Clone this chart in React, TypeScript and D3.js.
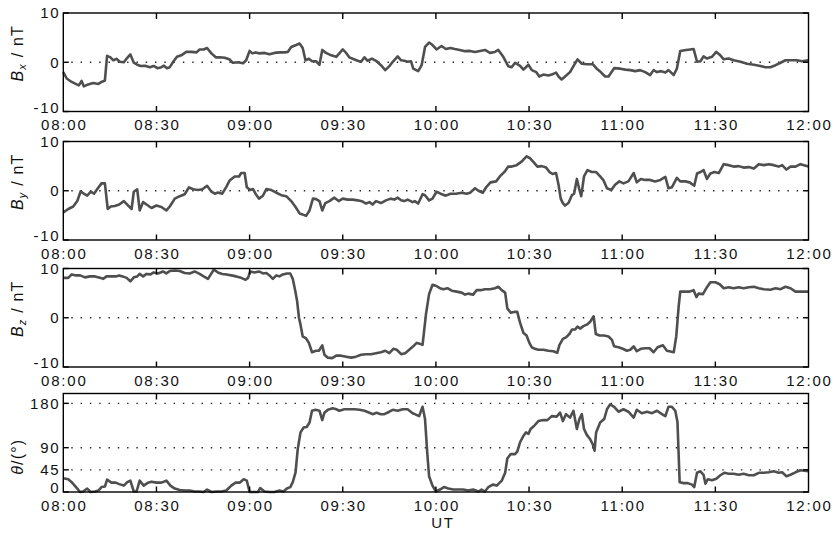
import React from 'react';
import * as d3 from 'd3';

// minutes after 08:00 UT, value
const bxData: [number, number][] = [
  [0,-2.0],[1.1,-3.3],[2.7,-4.0],[4.3,-4.5],[5.0,-4.7],[5.9,-3.8],[6.6,-4.9],[8.0,-4.5],[9.6,-4.2],[11.3,-4.4],
  [12.3,-4.0],[13.4,-3.7],[14.1,1.3],[15.2,1.0],[16.1,0.4],[17.1,0.7],[18.2,0.1],[19.5,0.0],[20.4,0.75],[21.6,1.6],
  [22.7,-0.1],[23.8,-0.5],[24.9,-0.75],[26.3,-0.7],[27.9,-1.0],[29.1,-0.75],[30.3,-1.2],[31.6,-1.0],[32.4,-0.7],[33.4,-1.2],
  [34.3,-1.0],[35.4,0.1],[36.6,1.1],[38.0,1.4],[39.6,2.1],[41.3,2.1],[42.9,2.0],[43.9,2.6],[45.2,2.6],[46.3,2.9],
  [47.7,1.8],[49.1,1.0],[50.4,1.0],[52.0,0.9],[53.6,0.55],[54.6,-0.1],[56.3,0.0],[57.9,-0.2],[58.9,0.4],[60.0,2.3],
  [60.9,1.8],[61.9,2.0],[63.2,1.8],[64.8,1.9],[66.4,1.6],[68.0,1.9],[69.6,2.0],[71.3,2.0],[72.3,2.1],[73.4,3.1],
  [75.0,3.5],[76.1,3.8],[77.1,2.9],[78.0,0.4],[79.1,0.7],[80.1,0.2],[81.4,0.2],[82.5,-0.5],[83.4,2.5],[84.6,1.9],
  [86.3,1.4],[87.9,1.1],[88.9,1.8],[90.0,2.6],[91.1,1.9],[92.1,1.0],[93.2,0.7],[94.8,0.3],[95.9,0.1],[97.0,1.0],
  [98.0,0.3],[99.4,0.75],[100.7,0.3],[102.3,-0.6],[103.7,-1.6],[105.0,-0.8],[106.1,0.1],[107.7,1.2],[108.8,0.4],[109.8,0.3],
  [110.9,0.1],[112.0,0.2],[112.7,-1.3],[114.3,-1.8],[115.4,-0.6],[116.5,3.1],[117.8,4.0],[118.9,3.5],[120.2,2.6],[121.8,3.3],
  [123.2,2.7],[124.7,2.9],[126.1,2.7],[127.7,2.5],[129.4,2.25],[131.0,2.3],[132.6,2.1],[134.2,2.3],[135.8,2.5],[137.4,1.9],
  [139.0,2.1],[140.1,2.5],[141.7,1.1],[143.3,-0.8],[144.4,-1.0],[145.5,-0.1],[147.1,-0.75],[148.2,-1.5],[149.8,-0.5],[150.9,-1.6],
  [152.3,-2.0],[153.3,-2.9],[154.6,-2.5],[156.2,-2.7],[157.3,-2.5],[158.7,-2.1],[159.5,-2.9],[160.5,-3.5],[161.6,-2.9],[163.2,-2.0],
  [164.3,-0.8],[165.6,0.6],[167.0,-0.3],[168.6,-0.4],[170.5,-0.4],[171.8,-1.3],[173.1,-2.0],[174.5,-2.9],[175.6,-2.9],[177.4,-1.2],
  [179.4,-1.3],[181.0,-1.5],[182.6,-1.6],[184.2,-1.8],[185.8,-1.6],[187.4,-2.0],[189.0,-2.6],[190.1,-1.6],[191.2,-2.0],[192.5,-1.8],
  [193.9,-2.1],[194.9,-1.6],[196.6,-2.6],[197.6,-1.3],[198.7,2.3],[200.6,2.5],[201.9,2.6],[203.0,2.7],[204.1,0.1],[205.2,0.2],
  [206.2,1.2],[207.3,0.75],[208.9,1.1],[210.3,2.1],[211.6,1.4],[212.7,0.6],[214.3,0.75],[215.9,0.4],[218.1,0.1],[220.2,-0.3],
  [222.4,-0.5],[224.5,-0.75],[226.1,-1.0],[227.7,-1.0],[229.4,-0.6],[231.0,-0.1],[232.6,0.4],[234.7,0.4],[236.3,0.4],[237.9,0.2],
  [240,0.4],
];

const byData: [number, number][] = [
  [0,-4.4],[1.6,-3.7],[3.2,-3.2],[4.5,-2.1],[5.6,-0.1],[6.6,-0.6],[7.7,-1.0],[8.8,-0.2],[9.9,-0.6],[10.9,0.3],
  [12.3,1.5],[13.4,1.5],[14.3,-3.7],[15.3,-3.2],[16.6,-3.1],[18.0,-2.8],[19.5,-2.1],[20.6,-2.8],[22.0,-3.7],[22.7,-0.2],
  [23.8,0.3],[24.6,-4.0],[25.7,-2.3],[26.8,-2.8],[28.4,-3.5],[30.0,-3.0],[31.6,-3.3],[33.2,-4.0],[34.3,-3.2],[35.9,-1.6],
  [37.5,-1.1],[39.1,-0.7],[40.5,0.7],[41.8,0.3],[43.4,0.14],[44.8,0.3],[46.3,1.0],[47.7,-0.2],[48.8,-0.6],[49.8,-0.35],
  [51.2,-0.6],[52.5,0.8],[53.6,2.1],[55.2,2.9],[56.6,2.9],[57.3,3.6],[58.4,3.6],[59.1,0.7],[60.2,0.14],[61.1,0.35],
  [61.9,-0.6],[63.0,-1.6],[64.3,-1.0],[65.4,0.35],[67.0,0.14],[68.6,-0.4],[70.2,-0.9],[71.8,-1.1],[73.4,-2.1],[74.8,-3.3],
  [76.1,-4.6],[77.4,-4.9],[78.2,-5.1],[79.3,-4.0],[80.4,-1.6],[81.4,-1.7],[82.5,-2.1],[83.4,-4.0],[84.4,-2.5],[85.7,-2.1],
  [87.3,-1.4],[88.7,-2.1],[90.0,-1.6],[91.6,-1.8],[93.2,-1.8],[94.8,-1.95],[96.4,-2.2],[97.5,-2.6],[98.6,-2.3],[99.6,-2.8],
  [100.7,-2.1],[102.3,-2.5],[103.9,-1.95],[105.5,-1.6],[106.6,-1.8],[107.7,-1.4],[108.8,-1.95],[109.8,-2.1],[110.9,-1.8],[112.5,-2.3],
  [113.2,-2.1],[114.3,-2.6],[115.7,-0.7],[116.5,-0.9],[117.8,-1.95],[118.9,-1.6],[120.2,-0.2],[121.5,-0.6],[123.2,-1.0],[124.7,-0.6],
  [126.5,-0.6],[128.3,-0.4],[129.9,-0.6],[131.0,-0.4],[132.6,0.5],[133.7,0.0],[135.1,-0.4],[136.3,0.8],[137.6,1.7],[139.4,1.9],
  [140.6,2.9],[142.3,4.0],[143.3,4.9],[144.4,4.9],[146.0,5.2],[147.6,5.9],[149.2,7.0],[150.3,6.6],[151.6,5.7],[152.7,4.9],
  [154.1,5.0],[155.5,4.7],[156.6,3.8],[157.6,3.4],[158.7,3.6],[159.5,1.2],[160.2,-1.6],[160.9,-2.5],[161.6,-3.0],[162.7,-2.5],
  [163.8,-0.9],[164.5,-0.6],[165.4,2.4],[166.1,0.5],[166.8,-1.1],[167.7,2.9],[168.8,4.2],[170.2,3.8],[171.6,3.8],[172.9,2.9],
  [174.0,2.1],[175.1,0.5],[176.5,0.14],[177.7,1.2],[179.1,1.9],[180.4,1.5],[182.0,1.9],[183.7,3.6],[184.7,1.7],[186.0,2.4],
  [187.4,2.2],[189.0,2.2],[190.6,1.9],[192.3,2.2],[193.9,2.8],[194.9,0.5],[196.0,0.7],[197.6,2.6],[198.7,1.9],[200.3,1.9],
  [201.7,1.7],[203.2,1.0],[204.1,3.5],[205.2,3.8],[206.2,4.2],[207.3,2.4],[208.4,3.5],[209.7,3.8],[211.1,3.6],[212.7,5.4],
  [214.3,5.2],[215.9,4.9],[217.5,5.0],[219.1,4.7],[220.8,4.8],[222.4,4.5],[224.0,5.4],[225.6,5.2],[227.2,5.4],[228.8,5.2],
  [230.4,4.9],[231.5,5.2],[232.9,4.3],[234.2,4.9],[235.8,4.9],[237.4,5.4],[240,4.9],
];

const bzData: [number, number][] = [
  [0,8.1],[1.6,8.1],[2.7,8.8],[4.1,8.6],[5.4,8.6],[7.0,8.2],[8.6,8.4],[10.2,8.4],[11.8,8.1],[12.9,7.9],
  [13.9,8.4],[15.5,8.4],[16.9,8.4],[18.0,8.6],[19.1,8.4],[20.4,8.1],[21.6,7.4],[22.7,8.2],[23.8,8.4],[24.6,8.9],
  [25.7,8.4],[26.8,8.9],[28.1,8.8],[29.1,9.2],[30.5,9.0],[32.1,9.4],[33.2,9.0],[34.3,9.5],[35.9,9.6],[37.5,9.5],
  [39.1,9.1],[40.7,9.0],[42.3,9.4],[43.9,8.9],[45.2,8.4],[46.6,7.9],[48.5,9.8],[49.8,9.2],[51.2,8.9],[52.5,8.8],
  [54.1,8.6],[55.7,8.4],[57.3,8.1],[58.7,7.7],[59.5,8.1],[60.2,9.4],[61.6,9.2],[63.0,9.4],[64.3,9.0],[65.4,9.1],
  [66.4,8.6],[67.5,7.9],[68.6,8.6],[69.6,8.4],[70.7,8.8],[72.0,9.0],[73.1,9.0],[73.9,7.9],[74.7,5.5],[75.3,3.4],
  [75.9,0.0],[76.4,-1.4],[77.1,-3.8],[78.2,-4.2],[79.1,-5.1],[80.1,-7.0],[81.4,-6.7],[82.3,-6.7],[83.4,-5.6],[84.1,-7.5],
  [85.2,-8.1],[86.6,-8.2],[87.9,-7.7],[89.5,-7.7],[91.1,-7.9],[92.7,-8.1],[94.3,-7.9],[95.9,-7.5],[97.5,-7.4],[99.1,-7.4],
  [100.7,-7.2],[102.3,-7.0],[103.7,-6.7],[105.0,-7.2],[106.3,-6.3],[107.4,-6.5],[108.8,-7.4],[110.1,-7.2],[111.4,-6.5],[112.7,-5.8],
  [113.8,-5.1],[114.8,-5.3],[115.7,-5.5],[116.8,0.7],[117.8,4.8],[118.9,6.7],[120.0,6.5],[121.3,6.0],[122.4,5.8],[123.7,6.0],
  [125.1,5.5],[126.7,5.3],[128.3,5.1],[129.4,4.7],[130.4,4.9],[132.0,4.7],[133.1,5.6],[134.4,5.6],[135.8,5.8],[137.4,5.8],
  [139.0,6.0],[140.1,6.3],[141.2,5.6],[142.3,5.1],[143.0,1.9],[144.1,1.0],[145.5,1.2],[146.2,1.2],[147.1,-1.0],[148.2,-3.1],
  [149.2,-3.6],[150.1,-5.1],[150.9,-6.0],[151.9,-6.3],[153.0,-6.5],[154.6,-6.5],[156.2,-6.7],[157.8,-6.8],[159.1,-7.1],[159.8,-5.5],
  [160.9,-4.3],[161.9,-4.0],[163.0,-3.3],[163.8,-2.4],[164.8,-2.4],[165.6,-1.8],[166.5,-2.2],[167.5,-1.7],[168.6,-1.4],[169.7,-0.8],
  [170.8,0.3],[171.5,-3.3],[172.7,-3.6],[174.2,-3.6],[175.6,-3.8],[176.7,-4.5],[177.4,-5.8],[178.8,-6.0],[180.2,-6.3],[181.5,-6.7],
  [182.6,-6.5],[183.7,-5.8],[184.7,-6.8],[186.0,-6.3],[187.4,-6.2],[188.8,-6.2],[190.1,-7.0],[191.4,-6.0],[193.1,-5.6],[194.4,-6.7],
  [196.6,-7.0],[197.4,-3.8],[198.2,2.4],[198.7,5.3],[200.3,5.3],[201.7,5.3],[203.0,5.6],[203.9,4.2],[204.6,4.9],[206.0,4.8],
  [207.3,6.2],[208.4,7.2],[210.0,7.2],[211.4,6.8],[212.7,6.0],[214.3,6.2],[215.9,6.0],[217.5,6.2],[219.1,6.0],[220.8,6.2],
  [222.4,6.3],[224.0,6.0],[225.6,5.8],[227.7,5.7],[229.4,6.0],[231.0,5.8],[232.6,6.3],[234.2,6.0],[235.8,5.3],[237.4,5.3],
  [240,5.3],
];

const thetaData: [number, number][] = [
  [0,28],[1.6,26],[2.7,20],[4.1,10],[5.4,0],[6.4,1],[7.7,7],[8.8,0],[10.2,1],[11.3,3],
  [12.3,10],[13.4,11],[14.1,25],[15.5,19],[16.9,19],[18.0,16],[19.5,13],[20.6,20],[21.6,23],[22.7,1],
  [23.6,1],[24.6,23],[25.9,13],[27.3,19],[28.4,21],[30.0,19],[31.6,19],[33.2,23],[34.5,13],[35.9,7],
  [37.5,4],[39.1,3],[40.7,3],[42.3,1],[43.9,1],[45.2,0],[46.3,5],[47.7,0],[49.3,1],[50.9,1],
  [52.5,3],[54.1,13],[55.5,19],[56.8,19],[58.1,26],[59.1,23],[60.0,0],[61.3,0],[62.7,0],[63.4,8],
  [64.8,1],[66.4,0],[68.0,0],[69.6,3],[70.9,1],[72.0,7],[73.1,10],[73.9,20],[74.8,40],[75.5,87],
  [76.4,121],[77.4,131],[78.4,132],[79.3,141],[80.1,165],[81.2,167],[82.5,165],[83.4,146],[84.1,161],[85.2,167],
  [86.8,170],[87.9,168],[88.9,165],[90.5,168],[92.1,168],[93.8,168],[95.4,167],[97.0,165],[98.6,161],[99.6,158],
  [100.9,161],[102.3,158],[103.4,158],[105.0,163],[106.1,167],[107.7,165],[109.3,168],[110.9,168],[112.5,160],[113.2,158],
  [114.6,154],[115.7,173],[116.5,148],[117.2,81],[117.8,32],[118.9,13],[120.0,1],[121.3,5],[122.6,10],[124.0,7],
  [125.6,5],[127.2,5],[128.8,5],[130.4,3],[132.0,5],[133.7,1],[134.7,5],[135.8,1],[136.9,10],[138.3,15],
  [139.6,13],[141.2,23],[142.3,39],[143.0,68],[144.1,77],[145.5,77],[146.2,82],[147.1,101],[148.2,114],[149.0,121],
  [149.8,118],[150.5,128],[151.6,134],[153.0,144],[154.6,146],[155.9,146],[157.3,154],[158.9,153],[160.0,161],[160.9,144],
  [161.9,158],[163.2,151],[164.3,165],[165.4,128],[166.2,148],[167.0,158],[167.7,128],[168.6,116],[169.7,107],[170.5,97],
  [171.1,84],[171.6,121],[172.9,141],[174.2,148],[175.1,168],[176.1,178],[177.4,173],[178.8,163],[180.4,168],[182.0,163],
  [183.7,151],[184.7,167],[186.3,160],[188.0,163],[189.6,160],[191.2,165],[192.8,158],[193.9,154],[194.9,173],[196.0,173],
  [197.1,165],[197.8,142],[198.5,20],[199.8,18],[201.1,18],[202.5,15],[203.2,10],[204.1,39],[205.2,42],[206.2,35],
  [206.8,17],[207.6,26],[208.9,24],[210.3,27],[211.6,34],[212.9,39],[214.3,37],[215.9,37],[217.5,35],[219.1,37],
  [220.8,34],[222.4,34],[224.0,39],[225.6,39],[227.2,40],[228.8,42],[230.4,39],[231.5,40],[232.9,32],[234.2,35],
  [235.8,40],[237.4,44],[240,42],
];

const timeTicks = [0, 30, 60, 90, 120, 150, 180, 210, 240];
const timeLabels = ['08:00', '08:30', '09:00', '09:30', '10:00', '10:30', '11:00', '11:30', '12:00'];
const bTicks = [-10, 0, 10];
const bGrid = [0];
const thetaTicks = [0, 45, 90, 180];
const thetaGrid = [45, 90, 180];

const FONT = '"Liberation Sans", Arial, Helvetica, sans-serif';
const LEFT = 63.3;
const RIGHT = 808.5;
const PANEL_H = 98.5;
const panelTops = [13, 141.5, 268.5, 393.5];

const x = d3.scaleLinear().domain([0, 240]).range([LEFT, RIGHT]);

type Panel = {
  data: [number, number][];
  domain: [number, number];
  ticks: number[];
  grid: number[];
  sub?: string;
  labelShift: number;
};

const panels: Panel[] = [
  { data: bxData, domain: [-10, 10], ticks: bTicks, grid: bGrid, sub: 'x', labelShift: -9 },
  { data: byData, domain: [-10, 10], ticks: bTicks, grid: bGrid, sub: 'y', labelShift: -9 },
  { data: bzData, domain: [-10, 10], ticks: bTicks, grid: bGrid, sub: 'z', labelShift: -9 },
  { data: thetaData, domain: [0, 200], ticks: thetaTicks, grid: thetaGrid, labelShift: 14 },
];

function PanelView({ p, top, last }: { p: Panel; top: number; last: boolean }) {
  const bottom = top + PANEL_H;
  const y = d3.scaleLinear().domain(p.domain).range([bottom, top]);
  const line = d3.line<[number, number]>()
    .x(d => x(d[0]))
    .y(d => y(d[1]));
  const cy = (top + bottom) / 2 + p.labelShift;
  const tickLen = 5.5;

  return (
    <g>
      {/* dotted reference lines */}
      {p.grid.map(v => (
        <line key={'g' + v} x1={LEFT + 8} x2={RIGHT - 2} y1={y(v)} y2={y(v)}
          stroke="#222" strokeWidth={1.4} strokeDasharray="1.4 7.9" />
      ))}
      <path d={line(p.data) || ''} fill="none" stroke="#4f4f4f" strokeWidth={2.6}
        strokeLinejoin="round" />
      <rect x={LEFT} y={top} width={RIGHT - LEFT} height={PANEL_H}
        fill="none" stroke="#000" strokeWidth={1.4} />
      {/* time ticks, top and bottom */}
      {timeTicks.slice(1, -1).map(t => (
        <g key={'t' + t}>
          <line x1={x(t)} x2={x(t)} y1={top} y2={top + tickLen + 0.5} stroke="#000" strokeWidth={1.4} />
          <line x1={x(t)} x2={x(t)} y1={bottom} y2={bottom - tickLen} stroke="#000" strokeWidth={1.4} />
        </g>
      ))}
      {timeTicks.map((t, i) => (
        <text key={'tl' + t} x={x(t) + 1} y={bottom + 18.5} textAnchor="middle"
          fontFamily={FONT} fontSize={15} letterSpacing={1.8} fill="#111">
          {timeLabels[i]}
        </text>
      ))}
      {/* value ticks, left and right */}
      {p.ticks.map(v => (
        <g key={'v' + v}>
          <line x1={LEFT} x2={LEFT + tickLen} y1={y(v)} y2={y(v)} stroke="#000" strokeWidth={1.4} />
          <line x1={RIGHT} x2={RIGHT - tickLen} y1={y(v)} y2={y(v)} stroke="#000" strokeWidth={1.4} />
          <text x={60.5} y={y(v) + (v === p.domain[0] ? 1.2 : 5.4)} textAnchor="end"
            fontFamily={FONT} fontSize={15} letterSpacing={1.8} fill="#111">
            {v}
          </text>
        </g>
      ))}
      {/* axis label */}
      <text transform={`translate(22.5,${cy}) rotate(-90)`} textAnchor="middle"
        fontFamily={FONT} fontSize={16} letterSpacing={1.2} fill="#111">
        {p.sub ? (
          <>
            <tspan fontStyle="italic">B</tspan>
            <tspan fontStyle="italic" fontSize={11} dy={3.5}>{p.sub}</tspan>
            <tspan dy={-3.5}>{' / nT'}</tspan>
          </>
        ) : (
          <>
            <tspan fontStyle="italic">θ</tspan>
            <tspan>/(°)</tspan>
          </>
        )}
      </text>
      {last && (
        <text x={443} y={528} textAnchor="middle" fontFamily={FONT} fontSize={15}
          letterSpacing={1.8} fill="#111">
          UT
        </text>
      )}
    </g>
  );
}

export default function App() {
  return (
    <div style={{ position: 'absolute', left: 0, top: 0, width: 834, height: 533, background: '#fff' }}>
      <svg width={834} height={533} style={{ display: 'block' }}>
        <rect width={834} height={533} fill="#fff" />
        {panels.map((p, i) => (
          <PanelView key={i} p={p} top={panelTops[i]} last={i === panels.length - 1} />
        ))}
      </svg>
    </div>
  );
}
